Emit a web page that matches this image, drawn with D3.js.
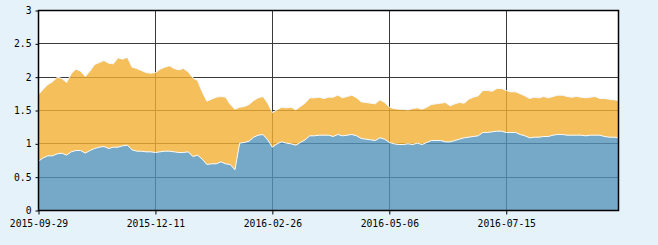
<!DOCTYPE html>
<html>
<head>
<meta charset="utf-8">
<script src="https://cdn.jsdelivr.net/npm/d3@7.9.0/dist/d3.min.js"></script>
<style>
  html, body { margin: 0; padding: 0; background: #e6f2fa; }
  svg { display: block; }
  .tick text { font-family: "DejaVu Sans Mono", monospace; font-size: 9.7px; fill: #000; }
</style>
</head>
<body>
<svg id="chart" width="658" height="245"></svg>
<script>
// x axis labels (trading days, one point every 2 trading days)
const tickLabels = ['2015-09-29', '2015-12-11', '2016-02-26', '2016-05-06', '2016-07-15'];
const tickIndex = [0, 25, 50, 75, 100];
const yTicks = [0, 0.5, 1, 1.5, 2, 2.5, 3];

// bottom series (blue)
const blueValues = [
  0.74, 0.79, 0.82, 0.82, 0.85, 0.86, 0.83, 0.88, 0.90, 0.90,
  0.86, 0.90, 0.93, 0.95, 0.96, 0.93, 0.95, 0.95, 0.97, 0.98,
  0.91, 0.89, 0.89, 0.88, 0.88, 0.87, 0.88, 0.89, 0.89, 0.88,
  0.87, 0.87, 0.88, 0.81, 0.83, 0.77, 0.69, 0.70, 0.70, 0.73,
  0.70, 0.69, 0.61, 1.01, 1.02, 1.04, 1.10, 1.13, 1.14, 1.06,
  0.95, 1.00, 1.03, 1.01, 1.00, 0.98, 1.02, 1.06, 1.12, 1.12,
  1.13, 1.13, 1.13, 1.11, 1.14, 1.12, 1.13, 1.14, 1.12, 1.08,
  1.07, 1.06, 1.05, 1.09, 1.07, 1.02, 1.00, 0.99, 0.99, 1.00,
  0.99, 1.01, 0.99, 1.02, 1.05, 1.05, 1.05, 1.03, 1.03, 1.05,
  1.07, 1.09, 1.10, 1.11, 1.12, 1.17, 1.17, 1.18, 1.19, 1.19,
  1.17, 1.17, 1.17, 1.14, 1.12, 1.09, 1.10, 1.10, 1.11, 1.11,
  1.13, 1.14, 1.14, 1.13, 1.13, 1.13, 1.13, 1.12, 1.13, 1.13,
  1.13, 1.11, 1.10, 1.10, 1.09
];

// stacked series (orange)
const orangeValues = [
  1.00, 1.03, 1.07, 1.11, 1.15, 1.12, 1.09, 1.17, 1.22, 1.19,
  1.15, 1.19, 1.26, 1.27, 1.29, 1.28, 1.25, 1.34, 1.30, 1.32,
  1.24, 1.24, 1.21, 1.19, 1.18, 1.20, 1.24, 1.26, 1.28, 1.25,
  1.24, 1.26, 1.20, 1.18, 1.12, 1.01, 0.95, 0.97, 1.00, 0.98,
  1.00, 0.90, 0.91, 0.54, 0.54, 0.55, 0.55, 0.56, 0.57, 0.55,
  0.52, 0.51, 0.52, 0.53, 0.55, 0.53, 0.54, 0.55, 0.57, 0.57,
  0.57, 0.55, 0.57, 0.59, 0.59, 0.57, 0.58, 0.59, 0.57, 0.55,
  0.55, 0.55, 0.55, 0.57, 0.55, 0.53, 0.53, 0.53, 0.53, 0.51,
  0.54, 0.53, 0.53, 0.53, 0.54, 0.55, 0.56, 0.59, 0.54, 0.55,
  0.55, 0.52, 0.57, 0.59, 0.60, 0.63, 0.63, 0.61, 0.64, 0.64,
  0.63, 0.61, 0.61, 0.61, 0.60, 0.59, 0.60, 0.59, 0.60, 0.58,
  0.58, 0.59, 0.59, 0.58, 0.57, 0.58, 0.57, 0.57, 0.57, 0.58,
  0.55, 0.57, 0.57, 0.56, 0.56
];

const seriesColors = ['#5394b9', '#f2b033'];

const plotLeft = 38.5, plotRight = 618.5, plotTop = 10.5, plotBottom = 210.5;
const svg = d3.select('#chart');

const x = d3.scaleLinear().domain([0, blueValues.length - 1]).range([plotLeft, plotRight]);
const y = d3.scaleLinear().domain([0, 3]).range([plotBottom, plotTop]);

svg.append('rect')
  .attr('x', plotLeft).attr('y', plotTop)
  .attr('width', plotRight - plotLeft).attr('height', plotBottom - plotTop)
  .attr('fill', '#fff');

// grid lines under the areas
const grid = svg.append('g').attr('stroke', '#3a3a3a').attr('stroke-width', 1);
grid.selectAll('line.h')
  .data(yTicks.slice(1, -1))
  .join('line')
  .attr('x1', plotLeft).attr('x2', plotRight)
  .attr('y1', (d) => Math.floor(y(d)) + 0.5)
  .attr('y2', (d) => Math.floor(y(d)) + 0.5);
grid.selectAll('line.v')
  .data(tickIndex.slice(1))
  .join('line')
  .attr('y1', plotTop).attr('y2', plotBottom)
  .attr('x1', (d) => Math.floor(x(d)) + 0.5)
  .attr('x2', (d) => Math.floor(x(d)) + 0.5);

// stack the two series
const table = blueValues.map((b, i) => ({ i, blue: b, orange: orangeValues[i] }));
const stacked = d3.stack().keys(['blue', 'orange'])(table);

const area = d3.area()
  .x((d) => x(d.data.i))
  .y0((d) => y(d[0]))
  .y1((d) => y(d[1]));

const topLine = d3.line()
  .x((d) => x(d.data.i))
  .y((d) => y(d[1]));

stacked.forEach((s, k) => {
  svg.append('path')
    .attr('d', area(s))
    .attr('fill', seriesColors[k])
    .attr('fill-opacity', 0.8);
});
stacked.forEach((s) => {
  svg.append('path')
    .attr('d', topLine(s))
    .attr('fill', 'none')
    .attr('stroke', '#f4faff')
    .attr('stroke-width', 1);
});

// axes
const xAxis = d3.axisBottom(x)
  .tickValues(tickIndex)
  .tickFormat((d, i) => tickLabels[i])
  .tickSize(4)
  .tickPadding(6);
const yAxis = d3.axisLeft(y)
  .tickValues(yTicks)
  .tickFormat((d) => d)
  .tickSize(3)
  .tickPadding(4);

const gx = svg.append('g').attr('class', 'x axis')
  .attr('transform', `translate(0,${plotBottom})`)
  .call(xAxis);
const gy = svg.append('g').attr('class', 'y axis')
  .attr('transform', `translate(${plotLeft},0)`)
  .call(yAxis);
[gx, gy].forEach((g) => {
  g.select('.domain').remove();
  g.selectAll('.tick line').attr('stroke', '#000');
});

// frame
svg.append('rect')
  .attr('x', plotLeft).attr('y', plotTop)
  .attr('width', plotRight - plotLeft).attr('height', plotBottom - plotTop)
  .attr('fill', 'none')
  .attr('stroke', '#000')
  .attr('stroke-width', 1.5);
</script>
</body>
</html>
